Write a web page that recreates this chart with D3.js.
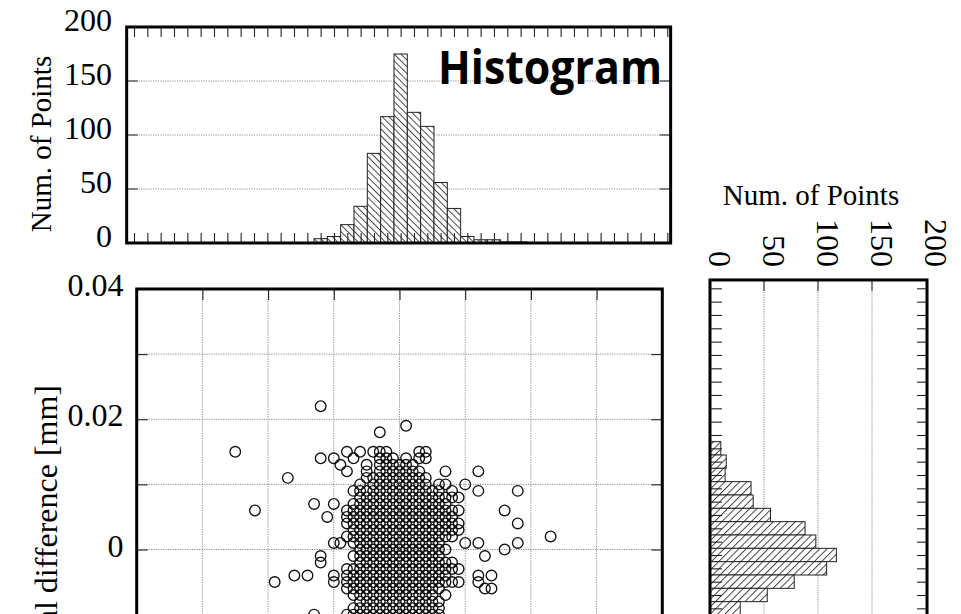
<!DOCTYPE html>
<html>
<head>
<meta charset="utf-8">
<script src="https://cdn.jsdelivr.net/npm/d3@7"></script>
<style>
  html, body { margin: 0; padding: 0; background: #fff; overflow: hidden; }
  svg { display: block; }
</style>
</head>
<body>
<svg id="fig" width="961" height="614"></svg>
<script>
// ---- Histogram of horizontal differences (top panel) ----
const topBinCenters = [-0.012, -0.010, -0.008, -0.006, -0.004, -0.002, 0, 0.002, 0.004, 0.006, 0.008, 0.010, 0.012, 0.014, 0.016, 0.018];
const topCounts     = [4, 6, 17, 34, 83, 117, 175, 121, 108, 56, 32, 6, 3, 3, 1, 1];

// ---- Histogram of vertical differences (right panel) ----
const rightBinCenters = [0.016, 0.014, 0.012, 0.010, 0.008, 0.006, 0.004, 0.002, 0, -0.002, -0.004, -0.006, -0.008];
const rightCounts     = [10, 15, 14, 38, 40, 56, 88, 98, 117, 108, 78, 53, 28];

// ---- Scatter: measured differences sit on a 0.001 mm lattice ----
const latticeX = [-0.014, -0.013, -0.012, -0.011, -0.010, -0.009, -0.008, -0.007, -0.006, -0.005,
                  -0.004, -0.003, -0.002, -0.001, 0, 0.001, 0.002, 0.003, 0.004, 0.005,
                  0.006, 0.007, 0.008, 0.009, 0.010, 0.011, 0.012, 0.013, 0.014];
const latticeY = [0.015, 0.014, 0.013, 0.012, 0.011, 0.010, 0.009, 0.008, 0.007, 0.006,
                  0.005, 0.004, 0.003, 0.002, 0.001, 0, -0.001, -0.002, -0.003, -0.004,
                  -0.005, -0.006, -0.007, -0.008, -0.009, -0.010];
// one string per latticeY row, one character per latticeX column ('#' = occupied)
const latticeRows = [
  "......#.#.###....##..........",
  "..#.#..#...###.#.##..........",
  ".....#...#.######............",
  "......#..#.#######...#....#..",
  ".........##########..........",
  "........#.#########.##..#....",
  ".......##############.#...#..",
  "........################.....",
  ".#..#..###############.......",
  "......##################.....",
  "...#..#################......",
  "......##################.....",
  ".......#################.....",
  "......#################......",
  "....##.##############...#.#..",
  "........##############.......",
  "..#....##############......#.",
  "..#.....###############......",
  "......##################.....",
  "....#.################....#.#",
  "....#.##################..#..",
  "......###############......##",
  ".......#############.#.......",
  "........#############........",
  ".......##############........",
  ".#....###############........"
];
// isolated points away from the central cluster [horizontal, vertical]
const outliers = [
  [-0.025, 0.015], [-0.022, 0.006], [-0.017, 0.011], [-0.012, 0.022], [-0.003, 0.018],
  [0.001, 0.019], [0.018, 0.009], [0.016, 0.006], [0.018, 0.004], [0.023, 0.002],
  [0.018, 0.001], [0.016, 0.000], [-0.014, -0.004], [-0.016, -0.004], [-0.019, -0.005]
];

// ---- Axis labels ----
const countTicks = [0, 50, 100, 150, 200];
const countTickLabels = ["0", "50", "100", "150", "200"];
const diffTicks = [0.04, 0.02, 0];
const diffTickLabels = ["0.04", "0.02", "0"];
const countTitle = "Num. of Points";
const verticalTitle = "Vertical difference [mm]";
const panelTitle = "Histogram";

const svg = d3.select("#fig");
const serif = "'Liberation Serif', 'Times New Roman', serif";
const gridColor = "#8c8c8c";

// hatch fills for the bars
const defs = svg.append("defs");
function hatch(id, angle, gap) {
  const p = defs.append("pattern")
    .attr("id", id)
    .attr("patternUnits", "userSpaceOnUse")
    .attr("width", gap).attr("height", 10)
    .attr("patternTransform", `rotate(${angle})`);
  p.append("rect").attr("width", gap).attr("height", 10).attr("fill", "#fff");
  p.append("line").attr("x1", 0.5).attr("x2", 0.5).attr("y1", 0).attr("y2", 10)
    .attr("stroke", "#333").attr("stroke-width", 0.9);
}
hatch("hatchBack", -45, 4.8);
hatch("hatchFwd", 45, 5.2);

function styleMinorAxis(g) {
  g.select(".domain").remove();
  g.selectAll(".tick line").attr("stroke", "#222").attr("stroke-width", 1.1);
  g.selectAll(".tick text").remove();
}

// ================= top histogram =================
const xTop = d3.scaleLinear().domain([-0.04, 0.04]).range([134, 667.3]);
const yTop = d3.scaleLinear().domain([0, 200]).range([243, 27]);
const topL = xTop(-0.0411), topR = xTop(0.0405);
const gTop = svg.append("g");

gTop.selectAll("line.grid")
  .data(countTicks.filter(v => v > 0 && v < 200))
  .join("line")
  .attr("x1", topL).attr("x2", topR)
  .attr("y1", d => yTop(d)).attr("y2", d => yTop(d))
  .attr("stroke", gridColor).attr("stroke-width", 1).attr("stroke-dasharray", "1.2,1.2");

gTop.selectAll("line.ytick")
  .data(countTicks.filter(v => v > 0 && v < 200).flatMap(v => [[topL, topL + 11, v], [topR - 11, topR, v]]))
  .join("line")
  .attr("x1", d => d[0]).attr("x2", d => d[1])
  .attr("y1", d => yTop(d[2])).attr("y2", d => yTop(d[2]))
  .attr("stroke", "#222").attr("stroke-width", 1);

gTop.selectAll("rect.bar")
  .data(topBinCenters.map((c, i) => ({ c, n: topCounts[i] })))
  .join("rect")
  .attr("x", d => xTop(d.c - 0.001))
  .attr("width", d => xTop(d.c + 0.001) - xTop(d.c - 0.001))
  .attr("y", d => yTop(d.n))
  .attr("height", d => yTop(0) - yTop(d.n))
  .attr("fill", "url(#hatchBack)")
  .attr("stroke", "#222").attr("stroke-width", 1);

gTop.append("g").attr("transform", `translate(0,${yTop(0)})`)
  .call(d3.axisBottom(xTop).tickValues(xTop.ticks(40)).tickSize(-10).tickFormat(""))
  .call(styleMinorAxis);
gTop.append("g").attr("transform", `translate(0,${yTop(200)})`)
  .call(d3.axisTop(xTop).tickValues(xTop.ticks(40)).tickSize(-10).tickFormat(""))
  .call(styleMinorAxis);

gTop.append("rect")
  .attr("x", topL).attr("y", yTop(200))
  .attr("width", topR - topL).attr("height", yTop(0) - yTop(200))
  .attr("fill", "none").attr("stroke", "#000").attr("stroke-width", 3);

gTop.selectAll("text.ylab")
  .data(countTicks)
  .join("text")
  .attr("x", 112).attr("y", d => yTop(d) + 4)
  .attr("text-anchor", "end")
  .attr("font-family", serif).attr("font-size", 32)
  .text((d, i) => countTickLabels[i]);

gTop.append("text")
  .attr("transform", "translate(51,144) rotate(-90)")
  .attr("text-anchor", "middle")
  .attr("font-family", serif).attr("font-size", 29)
  .text(countTitle);

gTop.append("text")
  .attr("x", 438).attr("y", 83.5)
  .attr("font-family", "'Open Sans', 'DejaVu Sans', sans-serif")
  .attr("font-weight", 700).attr("font-size", 46)
  .attr("textLength", 224).attr("lengthAdjust", "spacingAndGlyphs")
  .text(panelTitle);

// ================= scatter =================
const xS = d3.scaleLinear().domain([-0.04, 0.04]).range([136.7, 662.3]);
const yS = d3.scaleLinear().domain([-0.04, 0.04]).range([810, 289]);
const gS = svg.append("g");
const inner = v => v > -0.04 + 1e-9 && v < 0.04 - 1e-9;

gS.selectAll("line.vgrid")
  .data(xS.ticks(8).filter(inner))
  .join("line")
  .attr("x1", d => xS(d)).attr("x2", d => xS(d))
  .attr("y1", yS(0.04)).attr("y2", yS(-0.04))
  .attr("stroke", gridColor).attr("stroke-width", 1).attr("stroke-dasharray", "1.2,1.2");
gS.selectAll("line.hgrid")
  .data(yS.ticks(8).filter(inner))
  .join("line")
  .attr("x1", xS(-0.04)).attr("x2", xS(0.04))
  .attr("y1", d => yS(d)).attr("y2", d => yS(d))
  .attr("stroke", gridColor).attr("stroke-width", 1).attr("stroke-dasharray", "1.2,1.2");

gS.append("g").attr("transform", `translate(${xS(-0.04)},0)`)
  .call(d3.axisLeft(yS).tickValues(yS.ticks(8).filter(inner)).tickSize(-11).tickFormat(""))
  .call(styleMinorAxis);
gS.append("g").attr("transform", `translate(${xS(0.04)},0)`)
  .call(d3.axisRight(yS).tickValues(yS.ticks(8).filter(inner)).tickSize(-11).tickFormat(""))
  .call(styleMinorAxis);
gS.append("g").attr("transform", `translate(0,${yS(0.04)})`)
  .call(d3.axisTop(xS).tickValues(xS.ticks(8).filter(inner)).tickSize(-11).tickFormat(""))
  .call(styleMinorAxis);

const points = [];
latticeRows.forEach((row, r) => {
  [...row].forEach((ch, c) => { if (ch === "#") points.push([latticeX[c], latticeY[r]]); });
});
outliers.forEach(p => points.push(p));

gS.selectAll("circle.pt")
  .data(points)
  .join("circle")
  .attr("cx", d => xS(d[0])).attr("cy", d => yS(d[1]))
  .attr("r", 5.3)
  .attr("fill", "none").attr("stroke", "#111").attr("stroke-width", 1.35);

gS.append("rect")
  .attr("x", xS(-0.04)).attr("y", yS(0.04))
  .attr("width", xS(0.04) - xS(-0.04)).attr("height", yS(-0.04) - yS(0.04))
  .attr("fill", "none").attr("stroke", "#000").attr("stroke-width", 3);

gS.selectAll("text.ylab")
  .data(diffTicks)
  .join("text")
  .attr("x", 123.5).attr("y", d => yS(d) + 7)
  .attr("text-anchor", "end")
  .attr("font-family", serif).attr("font-size", 32)
  .text((d, i) => diffTickLabels[i]);

gS.append("text")
  .attr("transform", "translate(57,385) rotate(-90)")
  .attr("text-anchor", "end")
  .attr("font-family", serif).attr("font-size", 32)
  .text(verticalTitle);

// ================= right histogram =================
const xR = d3.scaleLinear().domain([0, 200]).range([710, 926]);
const yR = d3.scaleLinear().domain([0.04, -0.04]).range([288.3, 821.7]);
const rTop = yR(0.04125), rBot = yR(-0.04125), rL = xR(0), rR = 927;
const gR = svg.append("g");

gR.selectAll("line.grid")
  .data(countTicks.filter(v => v > 0 && v < 200))
  .join("line")
  .attr("x1", d => xR(d)).attr("x2", d => xR(d))
  .attr("y1", rTop).attr("y2", rBot)
  .attr("stroke", gridColor).attr("stroke-width", 1).attr("stroke-dasharray", "1.2,1.2");
gR.selectAll("line.xtick")
  .data(countTicks.filter(v => v > 0 && v < 200))
  .join("line")
  .attr("x1", d => xR(d)).attr("x2", d => xR(d))
  .attr("y1", rTop).attr("y2", rTop + 11)
  .attr("stroke", "#222").attr("stroke-width", 1);

gR.selectAll("rect.bar")
  .data(rightBinCenters.map((c, i) => ({ c, n: rightCounts[i] })))
  .join("rect")
  .attr("x", xR(0))
  .attr("width", d => xR(d.n) - xR(0))
  .attr("y", d => yR(d.c + 0.001))
  .attr("height", d => yR(d.c - 0.001) - yR(d.c + 0.001))
  .attr("fill", "url(#hatchFwd)")
  .attr("stroke", "#222").attr("stroke-width", 1);

gR.append("g").attr("transform", `translate(${rL},0)`)
  .call(d3.axisLeft(yR).tickValues(yR.ticks(40)).tickSize(-12).tickFormat(""))
  .call(styleMinorAxis);
gR.append("g").attr("transform", `translate(${rR},0)`)
  .call(d3.axisRight(yR).tickValues(yR.ticks(40)).tickSize(-10).tickFormat(""))
  .call(styleMinorAxis);

gR.append("rect")
  .attr("x", rL).attr("y", rTop)
  .attr("width", rR - rL).attr("height", rBot - rTop)
  .attr("fill", "none").attr("stroke", "#000").attr("stroke-width", 3);

gR.selectAll("text.xlab")
  .data(countTicks)
  .join("text")
  .attr("transform", d => `translate(${xR(d) - 1.5},267) rotate(90)`)
  .attr("text-anchor", "end")
  .attr("font-family", serif).attr("font-size", 32)
  .text((d, i) => countTickLabels[i]);

gR.append("text")
  .attr("x", 811).attr("y", 205)
  .attr("text-anchor", "middle")
  .attr("font-family", serif).attr("font-size", 29)
  .text(countTitle);
</script>
</body>
</html>
